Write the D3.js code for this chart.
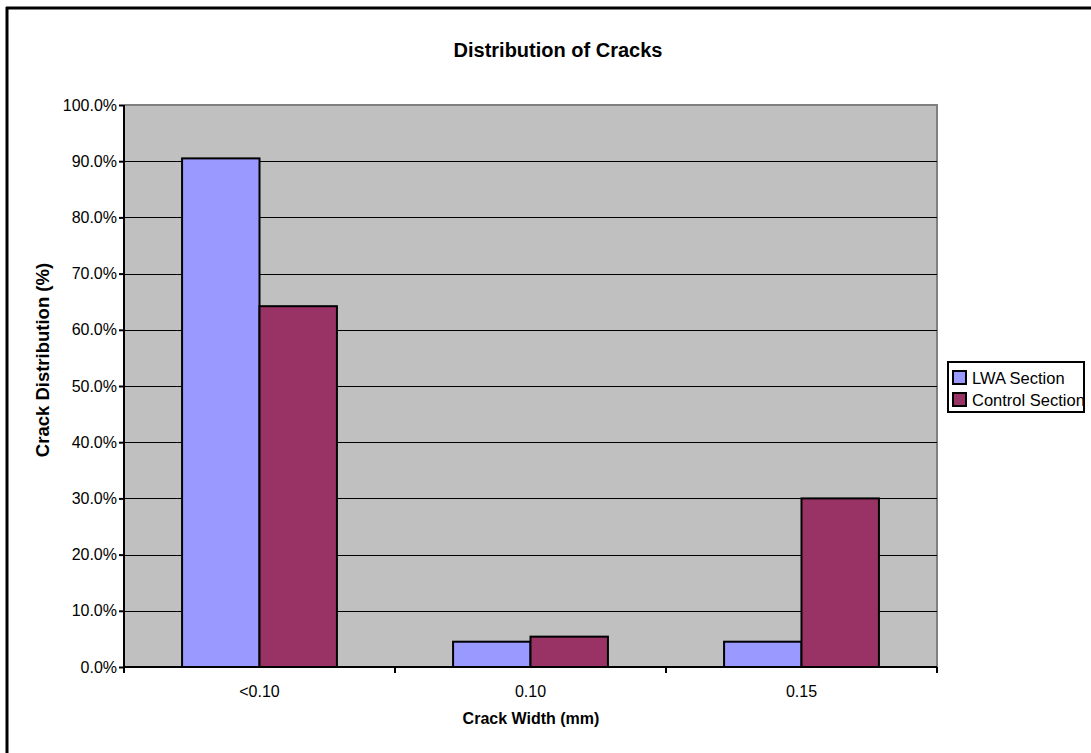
<!DOCTYPE html>
<html>
<head>
<meta charset="utf-8">
<script src="https://cdn.jsdelivr.net/npm/d3@7"></script>
<style>
  html, body { margin: 0; padding: 0; background: #fff; }
  svg { display: block; font-family: "Liberation Sans", Arial, sans-serif; }
</style>
</head>
<body>
<svg id="chart" width="1091" height="753"></svg>
<script>
// Crack width classes and share of cracks in each section
const categories = ["<0.10", "0.10", "0.15"];
const seriesNames = ["LWA Section", "Control Section"];
const lwaValues = [90.5, 4.5, 4.5];
const controlValues = [64.2, 5.4, 30.0];
const yTicks = [0, 10, 20, 30, 40, 50, 60, 70, 80, 90, 100];
const seriesColors = ["#9999FF", "#993366"];

const svg = d3.select("#chart");
const W = 1091, H = 753;
const plot = { left: 124, right: 937, top: 105, bottom: 667 };

// Chart area frame (only top and left edges fall inside the window)
svg.append("rect").attr("x", 0).attr("y", 0).attr("width", W).attr("height", H).attr("fill", "#fff");
svg.append("line").attr("x1", 7).attr("x2", 7).attr("y1", 7).attr("y2", H)
  .attr("stroke", "#000").attr("stroke-width", 3);
svg.append("line").attr("x1", 6).attr("x2", W).attr("y1", 8).attr("y2", 8)
  .attr("stroke", "#000").attr("stroke-width", 3);

const x0 = d3.scaleBand().domain(categories).range([plot.left, plot.right]).paddingInner(0).paddingOuter(0);
// 150% gap width: each group = 2 bars + 1.5 bar widths of gap
const groupW = x0.bandwidth() * 2 / 3.5;
const x1 = d3.scaleBand().domain(seriesNames).range([0, groupW]).padding(0);
const y = d3.scaleLinear().domain([0, 100]).range([plot.bottom, plot.top]);

// Plot area
svg.append("rect")
  .attr("x", plot.left).attr("y", plot.top)
  .attr("width", plot.right - plot.left).attr("height", plot.bottom - plot.top)
  .attr("fill", "#C0C0C0");
svg.append("path")
  .attr("d", `M${plot.left},${plot.top}H${plot.right}V${plot.bottom}`)
  .attr("fill", "none").attr("stroke", "#808080").attr("stroke-width", 2);

// Gridlines
svg.append("g").selectAll("line").data(yTicks.filter(d => d > 0 && d < 100)).join("line")
  .attr("x1", plot.left).attr("x2", plot.right)
  .attr("y1", d => Math.round(y(d)) + 0.5).attr("y2", d => Math.round(y(d)) + 0.5)
  .attr("stroke", "#000").attr("stroke-width", 1);

// Bars
const rows = categories.map((c, i) => ({ cat: c, vals: [lwaValues[i], controlValues[i]] }));
const groups = svg.append("g").selectAll("g").data(rows).join("g")
  .attr("transform", d => `translate(${x0(d.cat) + (x0.bandwidth() - groupW) / 2},0)`);
groups.selectAll("rect").data(d => d.vals.map((v, j) => ({ name: seriesNames[j], v, j }))).join("rect")
  .attr("x", d => x1(d.name))
  .attr("width", x1.bandwidth())
  .attr("y", d => y(d.v))
  .attr("height", d => y(0) - y(d.v))
  .attr("fill", d => seriesColors[d.j])
  .attr("stroke", "#000").attr("stroke-width", 2);

// Axes
const yAxis = d3.axisLeft(y).tickValues(yTicks).tickFormat(d => d.toFixed(1) + "%").tickSize(5).tickPadding(2);
const gy = svg.append("g").attr("transform", `translate(${plot.left},0)`).call(yAxis);
gy.select(".domain").attr("stroke", "#000").attr("stroke-width", 2).attr("d", `M0,${plot.top}V${plot.bottom}`);
gy.selectAll(".tick line").attr("stroke", "#000").attr("stroke-width", 2);
gy.selectAll(".tick text").attr("font-size", 16).attr("fill", "#000")
  .attr("font-family", "'Liberation Sans', Arial, sans-serif");

const xAxis = d3.axisBottom(x0).tickSize(0).tickPadding(19);
const gx = svg.append("g").attr("transform", `translate(0,${plot.bottom})`).call(xAxis);
gx.select(".domain").attr("stroke", "#000").attr("stroke-width", 2).attr("d", `M${plot.left},0H${plot.right}`);
gx.selectAll(".tick text").attr("font-size", 16).attr("fill", "#000")
  .attr("font-family", "'Liberation Sans', Arial, sans-serif");
// Category boundary tick marks
const bounds = categories.map(c => x0(c)).concat([plot.right]);
gx.append("g").selectAll("line").data(bounds).join("line")
  .attr("x1", d => d).attr("x2", d => d).attr("y1", 0).attr("y2", 6)
  .attr("stroke", "#000").attr("stroke-width", 2);

// Titles
svg.append("text").attr("x", 558).attr("y", 57).attr("text-anchor", "middle")
  .attr("font-size", 20).attr("font-weight", "bold").text("Distribution of Cracks");
svg.append("text").attr("x", 531).attr("y", 724).attr("text-anchor", "middle")
  .attr("font-size", 16).attr("font-weight", "bold").text("Crack Width (mm)");
svg.append("text").attr("transform", `translate(49,360) rotate(-90)`)
  .attr("text-anchor", "middle").attr("font-size", 18.5).attr("font-weight", "bold")
  .text("Crack Distribution (%)");

// Legend
const lg = { x: 948, y: 362, w: 136, h: 50 };
svg.append("clipPath").attr("id", "legendClip").append("rect")
  .attr("x", lg.x).attr("y", lg.y).attr("width", lg.w).attr("height", lg.h);
const legend = svg.append("g");
legend.append("rect").attr("x", lg.x).attr("y", lg.y).attr("width", lg.w).attr("height", lg.h)
  .attr("fill", "#fff");
const items = legend.append("g").attr("clip-path", "url(#legendClip)")
  .selectAll("g").data(seriesNames).join("g")
  .attr("transform", (d, i) => `translate(${lg.x},${lg.y + 9 + i * 22})`);
items.append("rect").attr("x", 5).attr("y", 0).attr("width", 13).attr("height", 13)
  .attr("fill", (d, i) => seriesColors[i]).attr("stroke", "#000").attr("stroke-width", 2);
items.append("text").attr("x", 24).attr("y", 12.5).attr("font-size", 16.5).text(d => d);
legend.append("rect").attr("x", lg.x).attr("y", lg.y).attr("width", lg.w).attr("height", lg.h)
  .attr("fill", "none").attr("stroke", "#000").attr("stroke-width", 2);
</script>
</body>
</html>
